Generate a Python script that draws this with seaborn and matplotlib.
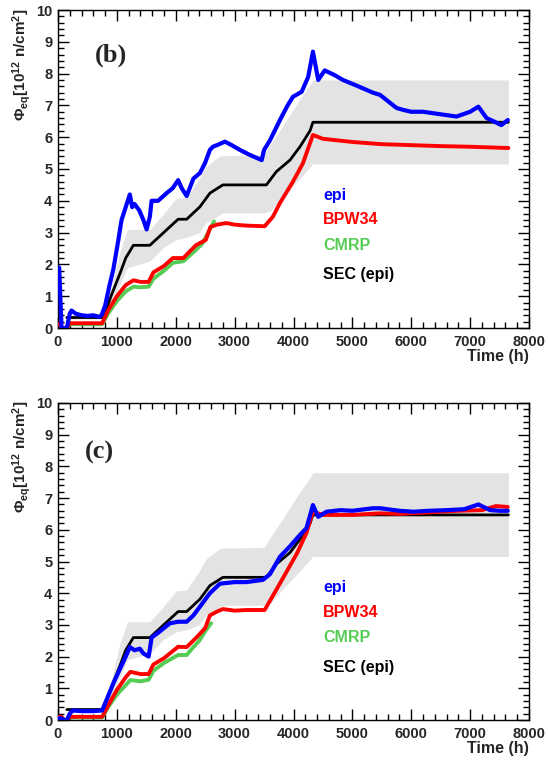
import matplotlib
matplotlib.use("Agg")
import matplotlib.pyplot as plt
from matplotlib.ticker import MultipleLocator
import numpy as np
import pandas as pd
import seaborn as sns

# SEC (epi) reference and its uncertainty band (same in both panels)
sec_t = [150, 770, 900, 1050, 1150, 1280, 1560, 2040, 2185, 2410, 2580, 2800,
         3540, 3710, 3940, 4110, 4280, 4330, 7650]
sec_y = [0.33, 0.33, 1.0, 1.7, 2.2, 2.6, 2.6, 3.42, 3.42, 3.81, 4.24, 4.5,
         4.5, 4.92, 5.28, 5.7, 6.2, 6.47, 6.47]

band_t = [150, 770, 900, 1050, 1180, 1560, 1800, 2010, 2185, 2400, 2510, 2740,
          2800, 3500, 3620, 3800, 4110, 4300, 4330, 7650]
band_hi = [0.38, 0.38, 1.2, 2.4, 3.1, 3.1, 3.6, 4.08, 4.1, 4.7, 5.07, 5.4,
           5.42, 5.45, 5.8, 6.3, 7.2, 7.7, 7.8, 7.8]
band_lo = [0.28, 0.28, 0.7, 1.35, 1.9, 2.1, 2.55, 2.78, 2.85, 3.0, 3.3, 3.55,
           3.62, 3.62, 3.7, 4.1, 4.7, 5.1, 5.16, 5.16]

# panel (b)
epi_b_t = [0, 20, 60, 150, 200, 230, 300, 400, 500, 600, 700, 740, 800, 870, 940,
           1010, 1080, 1150, 1220, 1260, 1300, 1380, 1450, 1505, 1560, 1590, 1700,
           1850, 1950, 2040, 2100, 2185, 2300, 2410, 2500, 2580, 2630, 2700, 2835,
           2950, 3090, 3250, 3460, 3500, 3600, 3770, 3900, 3990, 4140, 4250, 4330,
           4420, 4530, 4700, 4840, 5100, 5350, 5470, 5750, 5860, 6000, 6200, 6500,
           6770, 7000, 7140, 7280, 7400, 7530, 7640]
epi_b_y = [1.85, 1.9, 0.0, 0.0, 0.45, 0.55, 0.45, 0.4, 0.38, 0.4, 0.35, 0.4, 0.7,
           1.3, 1.85, 2.6, 3.4, 3.8, 4.2, 3.8, 3.9, 3.7, 3.4, 3.1, 3.5, 4.0, 4.0,
           4.25, 4.4, 4.65, 4.4, 4.15, 4.7, 4.87, 5.2, 5.6, 5.7, 5.75, 5.86, 5.75,
           5.6, 5.45, 5.28, 5.6, 5.9, 6.54, 7.0, 7.27, 7.43, 7.9, 8.69, 7.8, 8.1,
           7.95, 7.8, 7.6, 7.4, 7.33, 6.92, 6.86, 6.8, 6.8, 6.72, 6.65, 6.8, 6.96,
           6.6, 6.5, 6.38, 6.54]

bpw_b_t = [0, 40, 60, 150, 200, 750, 850, 1000, 1150, 1280, 1400, 1540, 1620, 1800,
           1950, 2130, 2340, 2510, 2590, 2700, 2860, 3000, 3200, 3510, 3650, 3770,
           3990, 4160, 4330, 4500, 5000, 5500, 6000, 6500, 7000, 7650]
bpw_b_y = [0.12, 0.1, 0.0, 0.0, 0.15, 0.15, 0.55, 1.0, 1.35, 1.5, 1.45, 1.45, 1.75,
           1.95, 2.2, 2.2, 2.6, 2.77, 3.18, 3.25, 3.3, 3.25, 3.22, 3.2, 3.5, 3.93,
           4.6, 5.18, 6.07, 5.95, 5.85, 5.78, 5.75, 5.72, 5.7, 5.66]

cmrp_b_t = [0, 40, 60, 150, 200, 750, 850, 1000, 1150, 1280, 1400, 1540, 1620, 1800,
            1950, 2130, 2340, 2450, 2550, 2650]
cmrp_b_y = [0.1, 0.08, 0.0, 0.0, 0.12, 0.12, 0.45, 0.85, 1.15, 1.3, 1.28, 1.3, 1.55,
            1.8, 2.05, 2.1, 2.45, 2.65, 3.0, 3.35]

# panel (c)
epi_c_t = [0, 60, 100, 150, 200, 250, 400, 600, 750, 850, 950, 1050, 1150, 1220,
           1300, 1390, 1450, 1540, 1590, 1700, 1900, 2040, 2185, 2300, 2400, 2580,
           2750, 3000, 3200, 3480, 3600, 3770, 3950, 4110, 4220, 4330, 4420, 4560,
           4800, 5000, 5350, 5470, 5800, 6040, 6300, 6600, 6900, 7140, 7340, 7500,
           7640]
epi_c_y = [0.05, 0.05, 0.0, 0.0, 0.2, 0.3, 0.28, 0.28, 0.3, 0.75, 1.2, 1.6, 2.0,
           2.3, 2.2, 2.25, 2.1, 2.0, 2.6, 2.75, 3.05, 3.1, 3.1, 3.3, 3.55, 4.0, 4.3,
           4.35, 4.35, 4.42, 4.6, 5.15, 5.5, 5.84, 6.05, 6.78, 6.41, 6.57, 6.62, 6.6,
           6.68, 6.68, 6.6, 6.57, 6.6, 6.62, 6.65, 6.8, 6.62, 6.6, 6.6]

bpw_c_t = [0, 60, 100, 150, 200, 750, 850, 1000, 1150, 1230, 1400, 1540, 1620, 1800,
           2040, 2185, 2350, 2500, 2580, 2700, 2800, 3000, 3200, 3510, 3770, 4060,
           4220, 4330, 4500, 5000, 5470, 5800, 6300, 6800, 7200, 7440, 7640]
bpw_c_y = [0.1, 0.1, 0.0, 0.0, 0.1, 0.1, 0.45, 0.95, 1.35, 1.52, 1.45, 1.45, 1.75,
           1.95, 2.31, 2.3, 2.6, 2.9, 3.3, 3.42, 3.5, 3.45, 3.47, 3.47, 4.31, 5.26,
           5.9, 6.57, 6.47, 6.47, 6.52, 6.5, 6.55, 6.6, 6.62, 6.75, 6.72]

cmrp_c_t = [0, 60, 100, 150, 200, 750, 850, 1000, 1150, 1230, 1400, 1540, 1620, 1800,
            2040, 2185, 2300, 2400, 2500, 2600]
cmrp_c_y = [0.08, 0.08, 0.0, 0.0, 0.08, 0.08, 0.4, 0.8, 1.1, 1.26, 1.22, 1.27, 1.55,
            1.8, 2.05, 2.05, 2.3, 2.5, 2.8, 3.05]

legend_names = ["epi", "BPW34", "CMRP", "SEC (epi)"]
legend_colors = ["#0000ff", "#ff0000", "#55cc55", "#000000"]
legend_y = [4.18, 3.4, 2.6, 1.67]

sns.set_style("ticks")
plt.rcParams["font.family"] = ["Liberation Sans", "DejaVu Sans"]
plt.rcParams["font.weight"] = "bold"
plt.rcParams["mathtext.fontset"] = "custom"
plt.rcParams["mathtext.rm"] = "Liberation Sans:bold"
plt.rcParams["mathtext.it"] = "Liberation Sans:bold"
plt.rcParams["mathtext.bf"] = "Liberation Sans:bold"
plt.rcParams["mathtext.default"] = "rm"

fig = plt.figure(figsize=(5.48, 7.62), dpi=100)
ax_b = fig.add_axes([58 / 548, 1 - 328 / 762, 471 / 548, 318 / 762])
ax_c = fig.add_axes([58 / 548, 1 - 720 / 762, 471 / 548, 317 / 762])

panels = [
    (ax_b, "(b)", 628, 8.58, epi_b_t, epi_b_y, bpw_b_t, bpw_b_y, cmrp_b_t, cmrp_b_y),
    (ax_c, "(c)", 458, 8.45, epi_c_t, epi_c_y, bpw_c_t, bpw_c_y, cmrp_c_t, cmrp_c_y),
]

for ax, tag, tx, ty, et, ey, bt, by, ct, cy in panels:
    ax.fill_between(band_t, band_lo, band_hi, color="#e3e3e3", lw=0, zorder=1)
    sns.lineplot(x=sec_t, y=sec_y, ax=ax, color="black", lw=2.0, zorder=3)
    sns.lineplot(x=ct, y=cy, ax=ax, color=legend_colors[2], lw=2.8, zorder=2)
    sns.lineplot(x=bt, y=by, ax=ax, color=legend_colors[1], lw=2.8, zorder=4)
    sns.lineplot(x=et, y=ey, ax=ax, color=legend_colors[0], lw=3.0, zorder=5)

    ax.set_xlim(0, 8000)
    ax.set_ylim(0, 10)
    ax.xaxis.set_major_locator(MultipleLocator(1000))
    ax.xaxis.set_minor_locator(MultipleLocator(200))
    ax.yaxis.set_major_locator(MultipleLocator(1))
    ax.yaxis.set_minor_locator(MultipleLocator(0.2))
    ax.tick_params(which="both", direction="in", top=True, right=True,
                   labelsize=10.5, width=1, color="black")
    ax.tick_params(which="major", length=8)
    ax.tick_params(which="minor", length=4)
    ax.tick_params(axis="x", pad=5)
    ax.tick_params(axis="y", pad=4)
    for lab in ax.get_xticklabels() + ax.get_yticklabels():
        lab.set_fontweight("bold")
    for sp in ax.spines.values():
        sp.set_color("black")
        sp.set_linewidth(1)
    ax.set_xlabel("")
    ax.set_ylabel("")

    ax.text(tx, ty, tag, family="Liberation Serif", fontweight="bold",
            fontsize=19, ha="left", va="center")
    for name, col, yy in zip(legend_names, legend_colors, legend_y):
        ax.text(4500, yy, name, color=col, fontsize=11.5, fontweight="bold",
                ha="left", va="center")
    ax.text(1.0, -0.09, "Time (h)", transform=ax.transAxes, fontsize=11.5,
            fontweight="bold", ha="right", va="center")

ylab = r"$\Phi_{eq}$[10$^{12}$ n/cm$^{2}$]"
fig.text(22 / 548, 1 - 8 / 762, ylab, rotation=90, ha="center", va="top",
         fontsize=11, fontweight="bold")
fig.text(22 / 548, 1 - 400 / 762, ylab, rotation=90, ha="center", va="top",
         fontsize=11, fontweight="bold")

fig.savefig("out.png", dpi=100, facecolor="white")
